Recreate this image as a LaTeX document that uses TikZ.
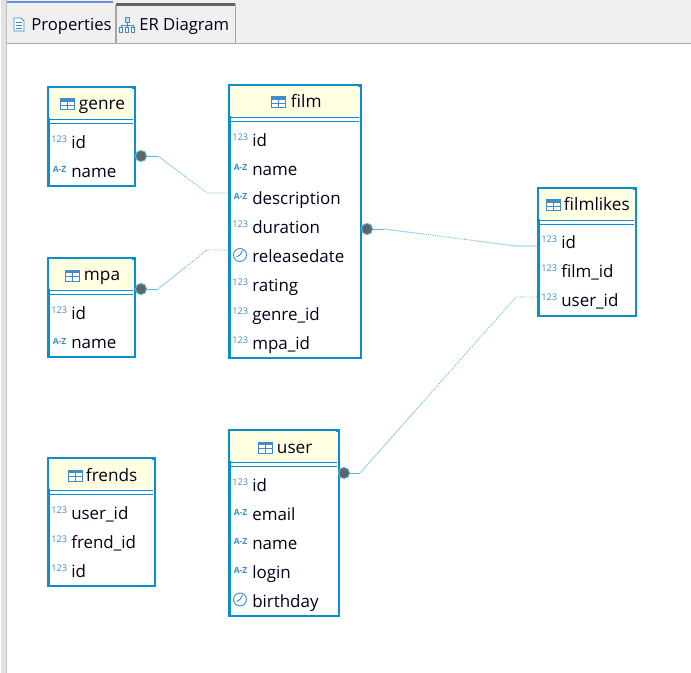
\documentclass[tikz,border=0pt]{standalone}
\usepackage{fontspec}
\usetikzlibrary{calc}
\setmainfont{Open Sans}
\definecolor{ebord}{HTML}{0B8FCB}
\definecolor{ehead}{HTML}{FFFFE1}
\definecolor{eicon}{HTML}{3E8CC8}
\definecolor{elink}{HTML}{5DB7DF}
\definecolor{epale}{HTML}{A5D8EE}
\definecolor{edot}{HTML}{5F6468}
\definecolor{ebar}{HTML}{F0F0F0}
\definecolor{estrip}{HTML}{E2E2E2}
\definecolor{eedge}{HTML}{A6A6A6}
\definecolor{etabline}{HTML}{6C8FE0}
\tikzset{
  x=0.75pt,y=-0.75pt,
  entity/.style={draw=ebord,line width=1.7pt,fill=white,inner sep=0pt,anchor=north west},
  headline/.style={draw=ebord,line width=0.6pt},
  rowtext/.style={anchor=base west,inner sep=0pt,font=\fontsize{12.7}{14}\selectfont,text=black!90!blue},
  titletext/.style={anchor=base west,inner sep=0pt,font=\fontsize{12.9}{14}\selectfont,text=black!90!blue},
  tabtext/.style={anchor=base west,inner sep=0pt,font=\fontsize{12.5}{14}\selectfont,text=black!90!blue},
  numicon/.style={anchor=base west,inner sep=0pt,font=\fontsize{6.9}{8}\selectfont,text=eicon},
  azicon/.style={anchor=base west,inner sep=0pt,font=\bfseries\fontsize{6.4}{7}\selectfont,text=eicon},
  gridicon/.style={draw=eicon,line width=0.75pt},
  clockicon/.style={draw=eicon,line width=0.7pt},
  keydot/.style={circle,fill=edot,draw=elink,line width=0.7pt,minimum size=8.4pt,inner sep=0pt},
  linksolid/.style={draw=elink,line width=0.6pt},
  linkpale/.style={draw=epale,line width=0.8pt},
  linkdot/.style={draw=elink,line width=0.7pt,densely dotted},
}
% entity box: name, left, top, width, height, title icon x, title x, title
\newcommand{\entitybox}[8]{%
  \node[entity,minimum width=#4*0.75pt-0.5pt,minimum height=#5*0.75pt-0.5pt] (#1) at (#2-0.7,#3-0.7) {};
  \fill[ehead] (#2+0.6,#3+0.6) rectangle (#2+#4-2.6,#3+31);
  \draw[headline] (#2-0.5,#3+32) -- (#2+#4-2,#3+32);
  \draw[headline] (#2-0.5,#3+36) -- (#2+#4-2,#3+36);
  \tablegrid{#2+#6}{#3+12}
  \node[titletext] (#1title) at (#2+#7-1.3,#3+23) {#8};
}
\newcommand{\tablegrid}[2]{%
  \fill[white] (#1,#2) rectangle (#1+14,#2+11);
  \fill[eicon] (#1,#2) rectangle (#1+14,#2+3);
  \draw[gridicon] (#1,#2) rectangle (#1+14,#2+11);
  \draw[gridicon] (#1,#2+6.5) -- (#1+14,#2+6.5);
  \draw[gridicon] (#1+7,#2) -- (#1+7,#2+11);
}
\newcommand{\rownum}[4]{%
  \node[numicon] (#1i) at (#2+3,#3+0.5) {123};
  \node[rowtext] (#1) at (#2+23,#3+6.5) {#4};
}
\newcommand{\rowaz}[4]{%
  \node[azicon] (#1i) at (#2+4.5,#3+2) {A-Z};
  \node[rowtext] (#1) at (#2+23,#3+6.5) {#4};
}
\newcommand{\rowclock}[4]{%
  \draw[clockicon] (#2+11,#3-1) circle (6.5);
  \draw[clockicon] (#2+11,#3-1) -- (#2+13.5,#3-5.5);
  \draw[clockicon] (#2+11,#3-1) -- (#2+7.5,#3+1);
  \node[rowtext] (#1) at (#2+23,#3+6.5) {#4};
}
\begin{document}
\begin{tikzpicture}
\useasboundingbox (0,0) rectangle (691,673);
\fill[white] (0,0) rectangle (691,673);
% window chrome
\fill[estrip] (1,0) rectangle (6.5,673);
\fill[ebar] (7,0) rectangle (691,43);
\draw[eedge!70,line width=0.5pt] (6.7,0) -- (6.7,673);
\draw[eedge,line width=0.6pt] (7,43.5) -- (691,43.5);
\fill[etabline] (7,1) rectangle (113,2.8);
\draw[eedge,line width=0.5pt] (115.5,5) -- (115.5,43);
\draw[eedge,line width=0.6pt,fill=ebar] (116,43.5) -- (116,4.5) -- (235,4.5) -- (235,43.5);
\fill[edot] (116,3.5) rectangle (235,6);
% tab: Properties
\draw[eicon,line width=0.7pt,fill=white] (14,18) -- (21,18) -- (24,21) -- (24,31) -- (14,31) -- cycle;
\draw[eicon,line width=0.7pt] (16,22) -- (22,22) (16,25) -- (22,25) (16,28) -- (22,28);
\node[tabtext] (tabprops) at (31,31) {Properties};
% tab: ER Diagram
\draw[eicon,line width=0.7pt,fill=eicon!30] (125,17) rectangle (129,22);
\draw[eicon,line width=0.7pt] (127,22) -- (127,25) (121,25) -- (133,25) (121,25) -- (121,27) (127,25) -- (127,27) (133,25) -- (133,27);
\draw[eicon,line width=0.7pt] (119.5,27) rectangle (122.5,32) (125.5,27) rectangle (128.5,32) (131.5,27) rectangle (134.5,32);
\node[tabtext] (taber) at (139,31) {ER Diagram};

% genre
\entitybox{genre}{48}{87}{87}{99}{12}{32}{genre}
\rownum{genreid}{48}{142}{id}
\rowaz{genrename}{48}{171}{name}
% film
\entitybox{film}{229}{85}{132}{273}{42}{63}{film}
\rownum{filmid}{229}{140}{id}
\rowaz{filmname}{229}{169}{name}
\rowaz{filmdesc}{229}{198}{description}
\rownum{filmdur}{229}{227}{duration}
\rowclock{filmrel}{229}{256}{releasedate}
\rownum{filmrat}{229}{285}{rating}
\rownum{filmgen}{229}{314}{genre\_id}
\rownum{filmmpa}{229}{343}{mpa\_id}
% filmlikes
\entitybox{filmlikes}{538}{188}{98}{128}{8}{27}{filmlikes}
\rownum{likeid}{538}{242}{id}
\rownum{likefilm}{538}{271}{film\_id}
\rownum{likeuser}{538}{300}{user\_id}
% mpa
\entitybox{mpa}{48}{258}{87}{99}{17}{37}{mpa}
\rownum{mpaid}{48}{313}{id}
\rowaz{mpaname}{48}{342}{name}
% user
\entitybox{user}{229}{430}{110}{186}{29}{49}{user}
\rownum{userid}{229}{484.5}{id}
\rowaz{useremail}{229}{513.5}{email}
\rowaz{username}{229}{542.5}{name}
\rowaz{userlogin}{229}{571.5}{login}
\rowclock{userbirth}{229}{600.5}{birthday}
% frends
\entitybox{frends}{48}{458}{107}{128}{20}{39}{frends}
\rownum{frenduser}{48}{513}{user\_id}
\rownum{frendfrend}{48}{542}{frend\_id}
\rownum{frendid}{48}{571}{id}

% connector routes
\coordinate (gb1) at (158,156);
\coordinate (gb2) at (207,193);
\coordinate (gt) at (film.west |- 0,193);
\coordinate (mb1) at (158,289);
\coordinate (mb2) at (207,250);
\coordinate (mt) at (film.west |- 0,250);
\coordinate (fb1) at (384,229);
\coordinate (fb2) at (516,246);
\coordinate (ft) at (filmlikes.west |- 0,246);
\coordinate (ub1) at (360,473);
\coordinate (ub2) at (516,297);
\coordinate (ut) at (filmlikes.west |- 0,297);
\node[keydot] (genredot) at (141,156) {};
\node[keydot] (mpadot) at (141,289) {};
\node[keydot] (filmdot) at (367,229) {};
\node[keydot] (userdot) at (344,473) {};
\draw[linksolid] (genredot) -- (gb1);
\draw[linkpale] (gb1) -- ($(gb1)!0.55!(gb2)$);
\draw[linkdot] ($(gb1)!0.55!(gb2)$) -- (gb2) -- (gt);
\draw[linksolid] (mpadot) -- (mb1);
\draw[linkpale] (mb1) -- ($(mb1)!0.55!(mb2)$);
\draw[linkdot] ($(mb1)!0.55!(mb2)$) -- (mb2) -- (mt);
\draw[linksolid] (filmdot) -- (fb1);
\draw[linkpale] (fb1) -- ($(fb1)!0.3!(fb2)$);
\draw[linkdot] ($(fb1)!0.3!(fb2)$) -- ($(fb1)!0.7!(fb2)$);
\draw[linkpale] ($(fb1)!0.7!(fb2)$) -- (fb2) -- (ft);
\draw[linksolid] (userdot) -- (ub1);
\draw[linkpale] (ub1) -- ($(ub1)!0.4!(ub2)$);
\draw[linkdot] ($(ub1)!0.4!(ub2)$) -- (ub2) -- (ut);
\end{tikzpicture}
\end{document}
